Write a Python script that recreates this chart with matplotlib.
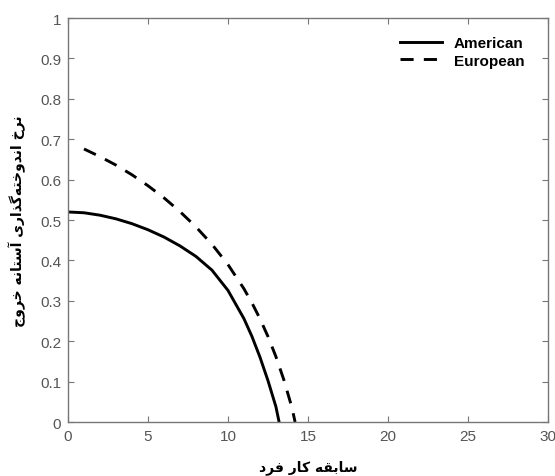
import matplotlib
matplotlib.use("Agg")
import matplotlib.pyplot as plt

# ---- data ----
american_x = [0, 1, 2, 3, 4, 5, 6, 7, 8, 9, 10, 11, 11.5, 12, 12.5, 13, 13.2]
american_y = [0.520, 0.518, 0.512, 0.503, 0.491, 0.476, 0.458, 0.436, 0.410,
              0.376, 0.326, 0.256, 0.212, 0.161, 0.103, 0.038, 0.0]
european_x = [1, 2, 3, 4, 5, 6, 7, 8, 9, 10, 11, 11.5, 12, 12.5, 13, 13.5, 14, 14.2]
european_y = [0.676, 0.657, 0.636, 0.612, 0.585, 0.555, 0.521, 0.483, 0.440,
              0.390, 0.330, 0.295, 0.256, 0.212, 0.162, 0.104, 0.036, 0.0]
series_labels = ["American", "European"]
x_ticks = [0, 5, 10, 15, 20, 25, 30]
y_ticks = [0, 0.1, 0.2, 0.3, 0.4, 0.5, 0.6, 0.7, 0.8, 0.9, 1]
y_tick_labels = ["0", "0.1", "0.2", "0.3", "0.4", "0.5", "0.6", "0.7", "0.8", "0.9", "1"]
x_label = "سابقه کار فرد"
y_label = "نرخ اندوخته\u200cگذاری آستانه خروج"

# ---- minimal Arabic/Persian shaping (matplotlib does not shape) ----
FORMS = {  # iso, fin, ini, med
    'ا': ('\uFE8D', '\uFE8E', None, None),
    'آ': ('\uFE81', '\uFE82', None, None),
    'ب': ('\uFE8F', '\uFE90', '\uFE91', '\uFE92'),
    'ت': ('\uFE95', '\uFE96', '\uFE97', '\uFE98'),
    'ج': ('\uFE9D', '\uFE9E', '\uFE9F', '\uFEA0'),
    'خ': ('\uFEA5', '\uFEA6', '\uFEA7', '\uFEA8'),
    'د': ('\uFEA9', '\uFEAA', None, None),
    'ذ': ('\uFEAB', '\uFEAC', None, None),
    'ر': ('\uFEAD', '\uFEAE', None, None),
    'س': ('\uFEB1', '\uFEB2', '\uFEB3', '\uFEB4'),
    'ف': ('\uFED1', '\uFED2', '\uFED3', '\uFED4'),
    'ق': ('\uFED5', '\uFED6', '\uFED7', '\uFED8'),
    'ن': ('\uFEE5', '\uFEE6', '\uFEE7', '\uFEE8'),
    'ه': ('\uFEE9', '\uFEEA', '\uFEEB', '\uFEEC'),
    'و': ('\uFEED', '\uFEEE', None, None),
    'ک': ('\uFB8E', '\uFB8F', '\uFB90', '\uFB91'),
    'گ': ('\uFB92', '\uFB93', '\uFB94', '\uFB95'),
    'ی': ('\uFBFC', '\uFBFD', '\uFBFE', '\uFBFF'),
}


def shape(text):
    out = []
    n = len(text)
    for i, ch in enumerate(text):
        if ch not in FORMS:
            if ch != '\u200c':
                out.append(ch)
            continue
        iso, fin, ini, med = FORMS[ch]
        prev = text[i - 1] if i > 0 else ''
        nxt = text[i + 1] if i + 1 < n else ''
        join_prev = prev in FORMS and FORMS[prev][2] is not None
        join_next = ini is not None and nxt in FORMS
        if join_prev and join_next:
            out.append(med)
        elif join_prev:
            out.append(fin)
        elif join_next:
            out.append(ini)
        else:
            out.append(iso)
    return ''.join(reversed(out))


fig = plt.figure(figsize=(5.55, 4.77), dpi=100)
ax = fig.add_axes([0.1225, 0.1132, 0.8645, 0.8468])

ax.plot(american_x, american_y, color='black', lw=2.1, ls='-', label=series_labels[0])
ax.plot(european_x, european_y, color='black', lw=2.1, ls=(0, (4.5, 3.5)), label=series_labels[1])

ax.set_xlim(0, 30)
ax.set_ylim(0, 1)
ax.set_xticks(x_ticks)
ax.set_yticks(y_ticks)
ax.set_yticklabels(y_tick_labels)

gray = '#555555'
for sp in ax.spines.values():
    sp.set_color('#777777')
    sp.set_linewidth(1.0)
ax.tick_params(direction='in', length=4, width=0.8, color='#777777',
               labelcolor=gray, labelsize=11, top=True, right=True, pad=5)
for lab in ax.get_xticklabels() + ax.get_yticklabels():
    lab.set_family('Liberation Sans')

ax.set_xlabel(shape(x_label), fontsize=10, fontweight='bold', family='DejaVu Sans', labelpad=12)
ax.set_ylabel(shape(y_label), fontsize=10, fontweight='bold', family='DejaVu Sans', labelpad=10)

leg = ax.legend(loc='upper right', frameon=False, handlelength=2.7,
                prop={'family': 'Liberation Sans', 'weight': 'bold', 'size': 11},
                bbox_to_anchor=(0.98, 0.99), labelspacing=0.25, handletextpad=0.8)

fig.savefig('out.png', dpi=100)
